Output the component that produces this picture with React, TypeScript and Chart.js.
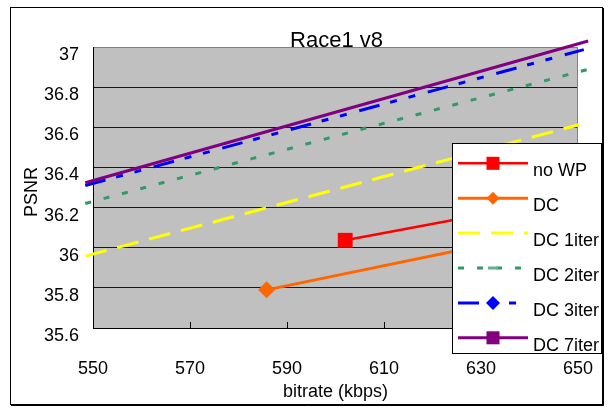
import React, { useEffect, useRef } from 'react';
import { Chart, registerables } from 'chart.js';

Chart.register(...registerables);

const FONT = "'Liberation Sans', Arial, sans-serif";

const TITLE = 'Race1 v8';
const X_TITLE = 'bitrate (kbps)';
const Y_TITLE = 'PSNR';
const X_TICKS = [550, 570, 590, 610, 630, 650];
const Y_TICKS = [35.6, 35.8, 36.0, 36.2, 36.4, 36.6, 36.8, 37.0];

const SERIES_NAMES = ['no WP', 'DC', 'DC 1iter', 'DC 2iter', 'DC 3iter', 'DC 7iter'];

const NOWP_RATE = [602.0, 648.0];
const NOWP_PSNR = [36.037, 36.245];
const DC_RATE = [585.8, 640.0];
const DC_PSNR = [35.79, 36.06];
const DC1_RATE = [548.4, 650.2];
const DC1_PSNR = [35.958, 36.613];
const DC2_RATE = [548.4, 603.0, 652.1];
const DC2_PSNR = [36.22, 36.575, 36.889];
const DC3_RATE = [548.4, 651.2];
const DC3_PSNR = [36.31, 36.987];
const DC7_RATE = [548.4, 652.1];
const DC7_PSNR = [36.324, 37.03];

const RATES = [NOWP_RATE, DC_RATE, DC1_RATE, DC2_RATE, DC3_RATE, DC7_RATE];
const PSNRS = [NOWP_PSNR, DC_PSNR, DC1_PSNR, DC2_PSNR, DC3_PSNR, DC7_PSNR];

type Style = {
  color: string;
  width: number;
  dash: number[];
  pointStyle: string | false;
  pointRadius: number;
  legendMarker: 'square' | 'diamond' | 'bar' | 'none';
  legendSize: number;
};

const STYLES: Style[] = [
  { color: '#FF0000', width: 2.5, dash: [], pointStyle: 'rect', pointRadius: 10.5, legendMarker: 'square', legendSize: 13 },
  { color: '#FF6600', width: 3, dash: [], pointStyle: 'rectRot', pointRadius: 8.5, legendMarker: 'diamond', legendSize: 6.5 },
  { color: '#FFFF00', width: 3, dash: [22, 11], pointStyle: false, pointRadius: 0, legendMarker: 'none', legendSize: 0 },
  { color: '#339966', width: 3, dash: [6, 13], pointStyle: false, pointRadius: 0, legendMarker: 'bar', legendSize: 10 },
  { color: '#0000FF', width: 3, dash: [21, 11, 7, 12, 7, 13], pointStyle: false, pointRadius: 0, legendMarker: 'diamond', legendSize: 7 },
  { color: '#800080', width: 3, dash: [], pointStyle: false, pointRadius: 0, legendMarker: 'square', legendSize: 13 },
];

const decorPlugin = {
  id: 'decor',
  beforeDraw(chart: any) {
    const { ctx, chartArea: a } = chart;
    ctx.save();
    ctx.fillStyle = '#FFFFFF';
    ctx.fillRect(0, 0, chart.width, chart.height);
    ctx.fillStyle = '#C0C0C0';
    ctx.fillRect(a.left, a.top, a.right - a.left, a.bottom - a.top);
    ctx.restore();
  },
  beforeDatasetsDraw(chart: any) {
    const { ctx, chartArea: a } = chart;
    const xs = chart.scales.x;
    ctx.save();
    ctx.strokeStyle = '#808080';
    ctx.lineWidth = 1;
    ctx.beginPath();
    const rx = Math.round(a.right) - 0.5;
    ctx.moveTo(rx, a.top);
    ctx.lineTo(rx, a.bottom);
    ctx.stroke();
    ctx.strokeStyle = '#000000';
    ctx.beginPath();
    X_TICKS.slice(1, -1).forEach((v) => {
      const px = Math.round(xs.getPixelForValue(v)) + 0.5;
      ctx.moveTo(px, a.bottom);
      ctx.lineTo(px, a.bottom - 6);
    });
    ctx.stroke();
    ctx.restore();
  },
  afterDraw(chart: any) {
    const { ctx, chartArea: a } = chart;
    ctx.save();
    ctx.fillStyle = '#000000';
    ctx.font = `22px ${FONT}`;
    ctx.textAlign = 'center';
    ctx.textBaseline = 'alphabetic';
    ctx.fillText(TITLE, (a.left + a.right) / 2 + 1, a.top);
    ctx.font = `18px ${FONT}`;
    ctx.textBaseline = 'middle';
    ctx.fillText(X_TITLE, (a.left + a.right) / 2, 392);
    ctx.save();
    ctx.translate(32.5, 192);
    ctx.rotate(-Math.PI / 2);
    ctx.fillText(Y_TITLE, 0, 0);
    ctx.restore();

    const lx = 452.5, ly = 143.5, lw = 149, lh = 210;
    ctx.fillStyle = '#FFFFFF';
    ctx.fillRect(lx, ly, lw, lh);
    ctx.strokeStyle = '#000000';
    ctx.lineWidth = 1;
    ctx.strokeRect(lx, ly, lw, lh);
    SERIES_NAMES.forEach((name, i) => {
      const st = STYLES[i];
      const y = 163.3 + 34.9 * i;
      ctx.save();
      ctx.strokeStyle = st.color;
      ctx.lineWidth = st.width;
      ctx.setLineDash(st.dash);
      ctx.beginPath();
      ctx.moveTo(458, y);
      ctx.lineTo(528, y);
      ctx.stroke();
      ctx.setLineDash([]);
      const cx = 493;
      ctx.fillStyle = st.color;
      if (st.legendMarker === 'square') {
        const s = st.legendSize;
        ctx.fillRect(cx - s / 2, y - s / 2, s, s);
      } else if (st.legendMarker === 'diamond') {
        const r = st.legendSize;
        ctx.beginPath();
        ctx.moveTo(cx, y - r);
        ctx.lineTo(cx + r, y);
        ctx.lineTo(cx, y + r);
        ctx.lineTo(cx - r, y);
        ctx.closePath();
        ctx.fill();
      } else if (st.legendMarker === 'bar') {
        ctx.fillStyle = '#66B38A';
        ctx.fillRect(cx - 5, y - 1.5, 10, 3);
      }
      ctx.restore();
      ctx.fillStyle = '#000000';
      ctx.font = `18px ${FONT}`;
      ctx.textAlign = 'left';
      ctx.textBaseline = 'middle';
      ctx.fillText(name, 533, y + 8);
    });

    ctx.strokeStyle = '#000000';
    ctx.lineWidth = 1;
    ctx.strokeRect(10.5, 7.5, 592, 397);
    ctx.beginPath();
    ctx.moveTo(603.5, 8);
    ctx.lineTo(603.5, 405.5);
    ctx.lineTo(11, 405.5);
    ctx.stroke();
    ctx.restore();
  },
};

export default function App() {
  const ref = useRef<HTMLCanvasElement | null>(null);

  useEffect(() => {
    document.body.style.margin = '0';
    const canvas = ref.current;
    if (!canvas) return;
    const datasets = SERIES_NAMES.map((name, i) => {
      const st = STYLES[i];
      return {
        label: name,
        data: RATES[i].map((x, j) => ({ x, y: PSNRS[i][j] })),
        borderColor: st.color,
        backgroundColor: st.color,
        borderWidth: st.width,
        borderDash: st.dash,
        pointStyle: st.pointStyle,
        pointRadius: st.pointRadius,
        pointHoverRadius: st.pointRadius,
        pointBorderWidth: 0,
        pointBackgroundColor: st.color,
        tension: 0,
        clip: false,
        order: SERIES_NAMES.length - 1 - i,
      };
    });
    const chart = new Chart(canvas, {
      type: 'line',
      data: { datasets } as any,
      options: {
        responsive: false,
        animation: false,
        devicePixelRatio: 1,
        layout: { padding: { left: 0, top: 47, right: 30, bottom: 0 } },
        plugins: {
          legend: { display: false },
          title: { display: false },
          tooltip: { enabled: false },
        },
        events: [],
        scales: {
          x: {
            type: 'linear',
            min: 550,
            max: 650,
            afterBuildTicks: (s: any) => {
              s.ticks = X_TICKS.map((v) => ({ value: v }));
            },
            afterFit: (s: any) => {
              s.height = 81;
              s.paddingLeft = 0;
              s.paddingRight = 0;
            },
            grid: { display: true, drawOnChartArea: false, drawTicks: false },
            border: { display: true, color: '#000000', width: 1 },
            ticks: {
              padding: 30.5,
              color: '#000000',
              font: { family: FONT, size: 18 },
              maxRotation: 0,
              autoSkip: false,
              callback: (v: any) => String(v),
            },
          },
          y: {
            type: 'linear',
            min: 35.6,
            max: 37,
            afterBuildTicks: (s: any) => {
              s.ticks = Y_TICKS.map((v) => ({ value: v }));
            },
            afterFit: (s: any) => {
              s.width = 93;
              s.paddingTop = 0;
              s.paddingBottom = 0;
            },
            grid: {
              drawTicks: false,
              lineWidth: 1,
              color: (c: any) => (c.tick && c.tick.value > 36.95 ? '#808080' : '#1A1A1A'),
            },
            border: { display: true, color: '#000000', width: 1 },
            ticks: {
              padding: 14,
              labelOffset: 8,
              color: '#000000',
              font: { family: FONT, size: 18 },
              autoSkip: false,
              callback: (v: any) => String(Number(Number(v).toFixed(1))),
            },
          },
        },
      } as any,
      plugins: [decorPlugin],
    });
    return () => chart.destroy();
  }, []);

  return (
    <div style={{ width: 608, height: 409 }}>
      <canvas ref={ref} width={608} height={409} style={{ display: 'block', width: 608, height: 409 }} />
    </div>
  );
}
